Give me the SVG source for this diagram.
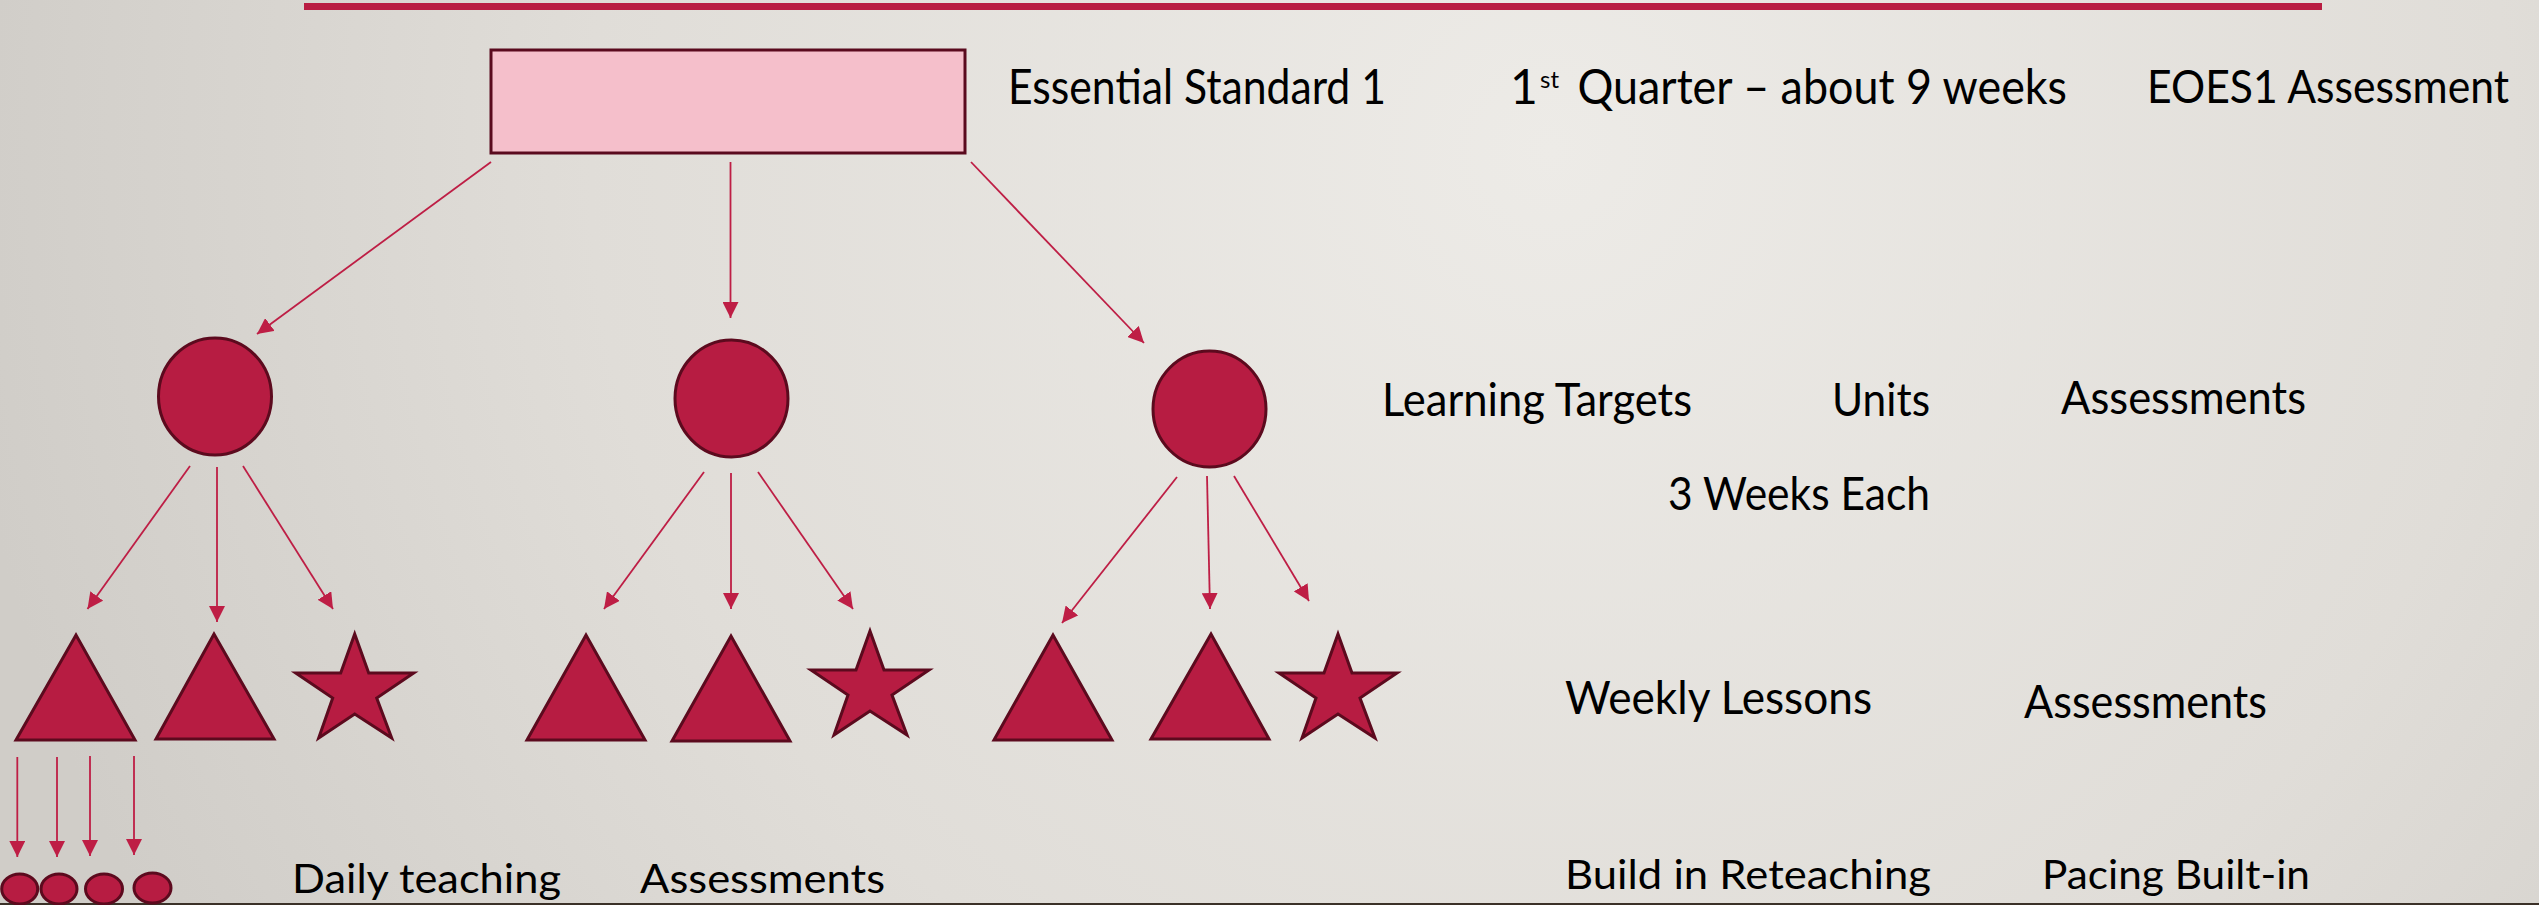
<svg xmlns="http://www.w3.org/2000/svg" width="2539" height="905" viewBox="0 0 2539 905">
<defs>
<radialGradient id="bg" gradientUnits="userSpaceOnUse" cx="1550" cy="150" r="1600">
<stop offset="0" stop-color="#EDEBE7"/>
<stop offset="0.6" stop-color="#E0DDD8"/>
<stop offset="1" stop-color="#D0CDC8"/>
</radialGradient>
<marker id="ah" markerUnits="userSpaceOnUse" markerWidth="16" markerHeight="16" refX="16" refY="8" orient="auto">
<path d="M0,0 L16,8 L0,16 Z" fill="#BE1E45"/>
</marker>
<path id="star" d="M0,0 L14,39 L59,39 L22,64 L37,104 L0,80 L-36,104 L-22,64 L-59,39 L-14,39 Z"/>
</defs>
<style>
.shape{fill:#B71C42;stroke:#5C0A1E;stroke-width:3;stroke-linejoin:miter}
.conn{stroke:#BE1E45;stroke-width:1.8;fill:none;marker-end:url(#ah)}
.lbl{font-family:Lato,"Liberation Sans",sans-serif;fill:#000}
.l1{font-size:48px}
.l2{font-size:46px}
.l3{font-size:40px}
</style>
<rect x="0" y="0" width="2539" height="905" fill="url(#bg)"/>
<rect x="304" y="3" width="2018" height="7" fill="#B91D42"/>
<rect x="0" y="903" width="2539" height="2" fill="#3B3128"/>

<g id="connectors">
<line class="conn" x1="491" y1="162" x2="257" y2="334"/>
<line class="conn" x1="730.5" y1="162" x2="730.5" y2="318"/>
<line class="conn" x1="971" y1="162" x2="1144" y2="343"/>
<line class="conn" x1="190" y1="466" x2="87.5" y2="609"/>
<line class="conn" x1="217" y1="467" x2="217" y2="622"/>
<line class="conn" x1="243" y1="466" x2="333" y2="609"/>
<line class="conn" x1="704" y1="472" x2="604" y2="609"/>
<line class="conn" x1="731" y1="473" x2="731" y2="609"/>
<line class="conn" x1="758" y1="472" x2="853" y2="609"/>
<line class="conn" x1="1177" y1="477" x2="1062" y2="623"/>
<line class="conn" x1="1207" y1="476" x2="1210" y2="609"/>
<line class="conn" x1="1234" y1="476" x2="1309" y2="601"/>
<line class="conn" x1="17.3" y1="757" x2="17.3" y2="857"/>
<line class="conn" x1="57" y1="757" x2="57" y2="857"/>
<line class="conn" x1="90" y1="756" x2="90" y2="856"/>
<line class="conn" x1="134" y1="756" x2="134" y2="855"/>
</g>

<g id="standard">
<rect x="491" y="50" width="474" height="103" fill="#F5BFCB" stroke="#5A0A1E" stroke-width="3"/>
</g>

<g id="target1"><ellipse class="shape" cx="215" cy="396.5" rx="56.5" ry="58.5"/></g>
<g id="target2"><ellipse class="shape" cx="731.5" cy="398.5" rx="56.5" ry="58.5"/></g>
<g id="target3"><ellipse class="shape" cx="1209.5" cy="409" rx="56.5" ry="58"/></g>

<g id="lesson1"><polygon class="shape" points="16,740 76,635 135,740"/></g>
<g id="lesson2"><polygon class="shape" points="156,739 214,634 274,739"/></g>
<g id="assess1"><use href="#star" class="shape" x="354.7" y="634"/></g>
<g id="lesson3"><polygon class="shape" points="527,740 586,635 645,740"/></g>
<g id="lesson4"><polygon class="shape" points="672,741 731,636 790,741"/></g>
<g id="assess2"><use href="#star" class="shape" x="870" y="631"/></g>
<g id="lesson5"><polygon class="shape" points="994,740 1053,635 1112,740"/></g>
<g id="lesson6"><polygon class="shape" points="1151,739 1211,634 1269,739"/></g>
<g id="assess3"><use href="#star" class="shape" x="1338" y="634"/></g>

<g id="daily1"><ellipse class="shape" cx="19.7" cy="889" rx="18" ry="15"/></g>
<g id="daily2"><ellipse class="shape" cx="59" cy="889" rx="18" ry="15"/></g>
<g id="daily3"><ellipse class="shape" cx="104" cy="889" rx="18.5" ry="15"/></g>
<g id="daily4"><ellipse class="shape" cx="152.5" cy="888" rx="18.5" ry="15"/></g>

<g id="labels">
<text class="lbl l1" x="1008" y="104" textLength="378" lengthAdjust="spacingAndGlyphs">Essential Standard 1</text>
<text class="lbl l1" x="1510" y="104">1<tspan x="1540" y="88" font-size="24">st</tspan><tspan x="1566" y="104" textLength="501" lengthAdjust="spacingAndGlyphs"> Quarter – about 9 weeks</tspan></text>
<text class="lbl l2" x="2147" y="103" textLength="362" lengthAdjust="spacingAndGlyphs">EOES1 Assessment</text>
<text class="lbl l2" x="1382" y="416" textLength="310" lengthAdjust="spacingAndGlyphs">Learning Targets</text>
<text class="lbl l2" x="1832" y="416" textLength="98" lengthAdjust="spacingAndGlyphs">Units</text>
<text class="lbl l2" x="2061" y="414" textLength="245" lengthAdjust="spacingAndGlyphs">Assessments</text>
<text class="lbl l2" x="1668" y="510" textLength="262" lengthAdjust="spacingAndGlyphs">3 Weeks Each</text>
<text class="lbl l2" x="1565" y="714" textLength="307" lengthAdjust="spacingAndGlyphs">Weekly Lessons</text>
<text class="lbl l2" x="2024" y="718" textLength="243" lengthAdjust="spacingAndGlyphs">Assessments</text>
<text class="lbl l3" x="1565" y="889" textLength="366" lengthAdjust="spacingAndGlyphs">Build in Reteaching</text>
<text class="lbl l3" x="2042" y="889" textLength="268" lengthAdjust="spacingAndGlyphs">Pacing Built-in</text>
<text class="lbl l3" x="292" y="893" textLength="269" lengthAdjust="spacingAndGlyphs">Daily teaching</text>
<text class="lbl l3" x="640" y="893" textLength="245" lengthAdjust="spacingAndGlyphs">Assessments</text>
</g>
</svg>
